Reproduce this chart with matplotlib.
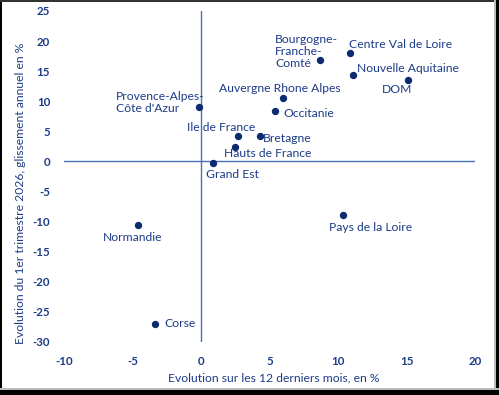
import matplotlib
matplotlib.use("Agg")
import matplotlib.pyplot as plt
from matplotlib.patches import Rectangle

regions = ["Provence-Alpes-\nCôte d'Azur", "Ile de France", "Hauts de France", "Grand Est",
           "Bourgogne-\nFranche-\nComté", "Centre Val de Loire", "Nouvelle Aquitaine", "DOM",
           "Auvergne Rhone Alpes", "Occitanie", "Bretagne", "Normandie", "Corse", "Pays de la Loire"]
x_12m = [-0.15, 2.7, 2.45, 0.85, 8.7, 10.9, 11.1, 15.1, 6.0, 5.4, 4.3, -4.6, -3.35, 10.4]
y_q1 = [9.1, 4.25, 2.4, -0.25, 16.8, 18.0, 14.3, 13.5, 10.5, 8.4, 4.3, -10.5, -27.0, -8.9]

# label offsets in pixels (dx, dy up-positive) and alignment
offsets = [(-83, 4, 'left'), (-17, 8, 'center'), (33, -6.5, 'center'), (20, -11.5, 'center'),
           (-45, 9, 'left'), (-1, 8.5, 'left'), (4, 7, 'left'), (-11, -9, 'center'),
           (-3, 9.5, 'center'), (8, -2.3, 'left'), (3, -2.6, 'left'), (-5.5, -12.7, 'center'),
           (9, 0, 'left'), (27.5, -12.6, 'center')]

navy = '#0b2a6f'
txt = '#1c3b87'
linec = '#4a70b5'
W, H = 499, 395

plt.rcParams['font.family'] = ['Lato', 'DejaVu Sans']
plt.rcParams['axes.unicode_minus'] = False

fig = plt.figure(figsize=(W/100, H/100), dpi=100)
ax = fig.add_axes([64/W, 1-342/H, (475-64)/W, (342-11)/H])
ax.set_xlim(-10, 20)
ax.set_ylim(-30, 25)
for s in ax.spines.values():
    s.set_visible(False)
ax.axhline(0, color=linec, lw=1.0, zorder=1)
ax.axvline(0, color=linec, lw=1.0, zorder=1)
ax.scatter(x_12m, y_q1, s=28, color=navy, zorder=3, linewidths=0)

for name, xv, yv, (dx, dy, ha) in zip(regions, x_12m, y_q1, offsets):
    ax.annotate(name, (xv, yv), xytext=(dx*0.72, dy*0.72), textcoords='offset points',
                ha=ha, va='center', fontsize=8.7, color=txt, multialignment='left',
                linespacing=1.1)

ax.set_xticks([-10, -5, 0, 5, 10, 15, 20])
ax.set_yticks(range(-30, 30, 5))
ax.tick_params(length=0, labelsize=8.3, colors=txt, pad=10)
for lab in ax.get_xticklabels() + ax.get_yticklabels():
    lab.set_fontweight('bold')

fig.text(274/W, 1-378.3/H, "Evolution sur les 12 derniers mois, en %", fontsize=8.7,
         color=txt, ha='center', va='center')
fig.text(21/W, 1-193/H, "Evolution du 1er trimestre 2026, glissement annuel en %", fontsize=8.7,
         color=txt, ha='center', va='center', rotation=90)

# frame
for (x0, y0, w, h, c) in [(0, 0, 2, H, 'black'), (0, 0, W, 2, '#333333'),
                          (496, 0, 3, H, 'black'), (493.5, 0, 2.5, H, '#bbbbbb'),
                          (0, 390, W, 5, 'black'), (0, 388, W, 2, '#bbbbbb')]:
    fig.patches.append(Rectangle((x0/W, 1-(y0+h)/H), w/W, h/H, transform=fig.transFigure,
                                 facecolor=c, edgecolor='none', zorder=5))
fig.savefig("out.png", dpi=100)
